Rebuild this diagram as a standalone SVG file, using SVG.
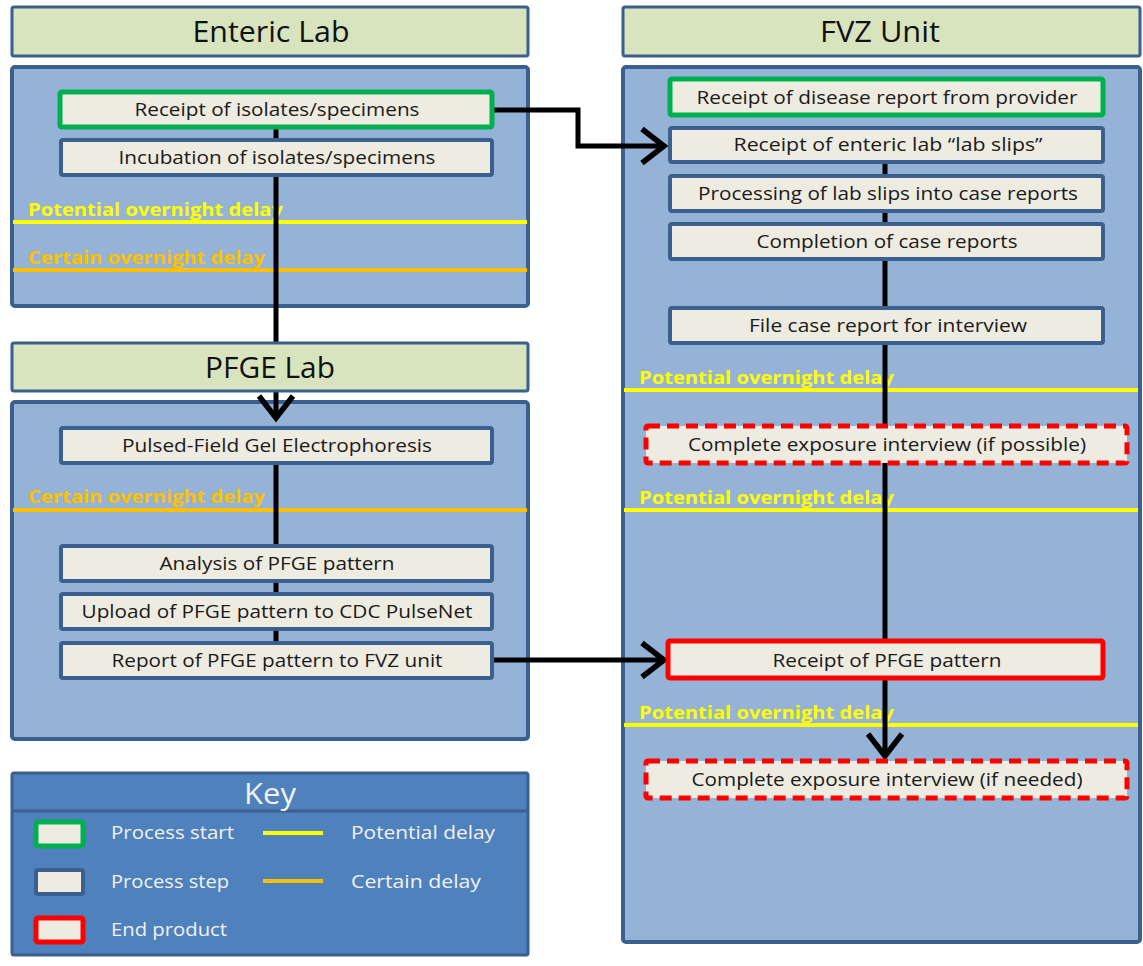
<svg xmlns="http://www.w3.org/2000/svg" width="1143" height="966" viewBox="0 0 1143 966">
<style>
.hdr{fill:#d7e4bd;stroke:#3b5f8f;stroke-width:3}
.body{fill:#95b3d7;stroke:#3b5f8f;stroke-width:4}
.box{fill:#eeece1;stroke:#3b5f8f;stroke-width:4}
.start{fill:#eeece1;stroke:#00b050;stroke-width:5}
.end{fill:#eeece1;stroke:#ff0000;stroke-width:5}
.endd{fill:#eeece1;stroke:#ff0000;stroke-width:5;stroke-dasharray:12,7}
.ht{font-family:"Open Sans","Liberation Sans",sans-serif;font-size:29px;fill:#111;text-anchor:middle}
.bt{font-family:"Open Sans","Liberation Sans",sans-serif;font-size:18px;fill:#1a1a1a;text-anchor:middle}
.py{stroke:#ffff00;stroke-width:4}
.po{stroke:#ffc000;stroke-width:4}
.dt{font-family:"Open Sans","Liberation Sans",sans-serif;font-size:17px;font-weight:bold}
.dty{fill:#ffff00}
.dto{fill:#ffc000}
.conn{stroke:#000;stroke-width:5;fill:none}
.kt{font-family:"Open Sans","Liberation Sans",sans-serif;font-size:19px;fill:#f2f2f2}
</style>
<defs>
<marker id="arr" markerWidth="6" markerHeight="8" refX="5" refY="4" orient="auto" markerUnits="strokeWidth">
<path d="M0.6,0.6 L5,4 L0.6,7.4" fill="none" stroke="#000" stroke-width="1.1"/>
</marker>
</defs>

<g id="enteric-lab">
<rect class="hdr" x="12" y="7" width="516" height="49" rx="2"/>
<text class="ht" x="271" y="42" textLength="157" lengthAdjust="spacingAndGlyphs">Enteric Lab</text>
<rect class="body" x="12" y="67" width="516" height="239" rx="3"/>
</g>
<g id="pfge-lab-body">
<rect class="body" x="12" y="402" width="516" height="337" rx="3"/>
</g>
<g id="fvz-unit">
<rect class="hdr" x="623" y="7" width="517" height="49" rx="2"/>
<text class="ht" x="880" y="42" textLength="120" lengthAdjust="spacingAndGlyphs">FVZ Unit</text>
<rect class="body" x="623" y="67" width="517" height="875" rx="3"/>
</g>

<g id="delays">
<line class="py" x1="13" y1="222" x2="527" y2="222"/>
<text class="dt dty" x="28" y="216" textLength="255" lengthAdjust="spacingAndGlyphs">Potential overnight delay</text>
<line class="po" x1="13" y1="270" x2="527" y2="270"/>
<text class="dt dto" x="28" y="264" textLength="237" lengthAdjust="spacingAndGlyphs">Certain overnight delay</text>
<line class="po" x1="13" y1="510" x2="527" y2="510"/>
<text class="dt dto" x="28" y="503" textLength="237" lengthAdjust="spacingAndGlyphs">Certain overnight delay</text>
<line class="py" x1="624" y1="390" x2="1138" y2="390"/>
<text class="dt dty" x="639" y="384" textLength="255" lengthAdjust="spacingAndGlyphs">Potential overnight delay</text>
<line class="py" x1="624" y1="510" x2="1138" y2="510"/>
<text class="dt dty" x="639" y="504" textLength="255" lengthAdjust="spacingAndGlyphs">Potential overnight delay</text>
<line class="py" x1="624" y1="725" x2="1138" y2="725"/>
<text class="dt dty" x="639" y="719" textLength="255" lengthAdjust="spacingAndGlyphs">Potential overnight delay</text>
</g>

<g id="connectors">
<path class="conn" d="M276,110 V345"/>
<path class="conn" d="M276,389 V418" marker-end="url(#arr)"/>
<path class="conn" d="M276,445 V660"/>
<path class="conn" d="M492,110 H578 V146 H664" marker-end="url(#arr)"/>
<path class="conn" d="M492,660 H664" marker-end="url(#arr)"/>
<path class="conn" d="M885,145 V756" marker-end="url(#arr)"/>
</g>

<g id="pfge-lab">
<rect class="hdr" x="12" y="343" width="516" height="48" rx="2"/>
<text class="ht" x="270" y="378" textLength="130" lengthAdjust="spacingAndGlyphs">PFGE Lab</text>
</g>

<g id="n-receipt-isolates"><rect class="start" x="60" y="92" width="432" height="35" rx="2"/><text class="bt" x="277" y="116" textLength="285" lengthAdjust="spacingAndGlyphs">Receipt of isolates/specimens</text></g>
<g id="n-incubation"><rect class="box" x="61" y="140" width="431" height="35" rx="2"/><text class="bt" x="277" y="164" textLength="317" lengthAdjust="spacingAndGlyphs">Incubation of isolates/specimens</text></g>
<g id="n-pfge"><rect class="box" x="61" y="428" width="431" height="35" rx="2"/><text class="bt" x="277" y="452" textLength="310" lengthAdjust="spacingAndGlyphs">Pulsed-Field Gel Electrophoresis</text></g>
<g id="n-analysis"><rect class="box" x="61" y="546" width="431" height="35" rx="2"/><text class="bt" x="277" y="570" textLength="235" lengthAdjust="spacingAndGlyphs">Analysis of PFGE pattern</text></g>
<g id="n-upload"><rect class="box" x="61" y="594" width="431" height="35" rx="2"/><text class="bt" x="277" y="618" textLength="391" lengthAdjust="spacingAndGlyphs">Upload of PFGE pattern to CDC PulseNet</text></g>
<g id="n-report"><rect class="box" x="61" y="643" width="431" height="35" rx="2"/><text class="bt" x="277" y="667" textLength="331" lengthAdjust="spacingAndGlyphs">Report of PFGE pattern to FVZ unit</text></g>

<g id="n-disease-report"><rect class="start" x="670" y="79" width="433" height="36" rx="2"/><text class="bt" x="887" y="104" textLength="381" lengthAdjust="spacingAndGlyphs">Receipt of disease report from provider</text></g>
<g id="n-lab-slips"><rect class="box" x="670" y="128" width="433" height="34" rx="2"/><text class="bt" x="888" y="151" textLength="309" lengthAdjust="spacingAndGlyphs">Receipt of enteric lab “lab slips”</text></g>
<g id="n-processing"><rect class="box" x="670" y="176" width="433" height="35" rx="2"/><text class="bt" x="888" y="200" textLength="380" lengthAdjust="spacingAndGlyphs">Processing of lab slips into case reports</text></g>
<g id="n-completion"><rect class="box" x="670" y="224" width="433" height="35" rx="2"/><text class="bt" x="887" y="248" textLength="261" lengthAdjust="spacingAndGlyphs">Completion of case reports</text></g>
<g id="n-file"><rect class="box" x="670" y="308" width="433" height="35" rx="2"/><text class="bt" x="888" y="332" textLength="278" lengthAdjust="spacingAndGlyphs">File case report for interview</text></g>
<g id="n-interview-possible"><rect class="endd" x="646" y="426" width="481" height="37" rx="2"/><text class="bt" x="887" y="451" textLength="398" lengthAdjust="spacingAndGlyphs">Complete exposure interview (if possible)</text></g>
<g id="n-receipt-pfge"><rect class="end" x="668" y="641" width="435" height="37" rx="2"/><text class="bt" x="887" y="667" textLength="229" lengthAdjust="spacingAndGlyphs">Receipt of PFGE pattern</text></g>
<g id="n-interview-needed"><rect class="endd" x="646" y="761" width="481" height="37" rx="2"/><text class="bt" x="887" y="786" textLength="391" lengthAdjust="spacingAndGlyphs">Complete exposure interview (if needed)</text></g>

<g id="key">
<rect x="12" y="773" width="516" height="182" rx="2" fill="#4f81bd" stroke="#3b5f8f" stroke-width="3"/>
<line x1="13" y1="811" x2="527" y2="811" stroke="#3b5f8f" stroke-width="3"/>
<text x="270" y="804" text-anchor="middle" font-family="'Open Sans','Liberation Sans',sans-serif" font-size="29" fill="#f2f2f2" textLength="52" lengthAdjust="spacingAndGlyphs">Key</text>
<rect class="start" x="36" y="822" width="47" height="24" rx="2" stroke-width="4"/>
<rect class="box" x="36" y="870" width="47" height="24" rx="2" stroke-width="5"/>
<rect class="end" x="36" y="918" width="47" height="24" rx="2" stroke-width="4"/>
<text class="kt" x="111" y="839" textLength="123" lengthAdjust="spacingAndGlyphs">Process start</text>
<text class="kt" x="111" y="888" textLength="118" lengthAdjust="spacingAndGlyphs">Process step</text>
<text class="kt" x="111" y="936" textLength="116" lengthAdjust="spacingAndGlyphs">End product</text>
<line class="py" x1="263" y1="833" x2="323" y2="833"/>
<line class="po" x1="263" y1="881" x2="323" y2="881"/>
<text class="kt" x="351" y="839" textLength="144" lengthAdjust="spacingAndGlyphs">Potential delay</text>
<text class="kt" x="351" y="888" textLength="130" lengthAdjust="spacingAndGlyphs">Certain delay</text>
</g>
</svg>
